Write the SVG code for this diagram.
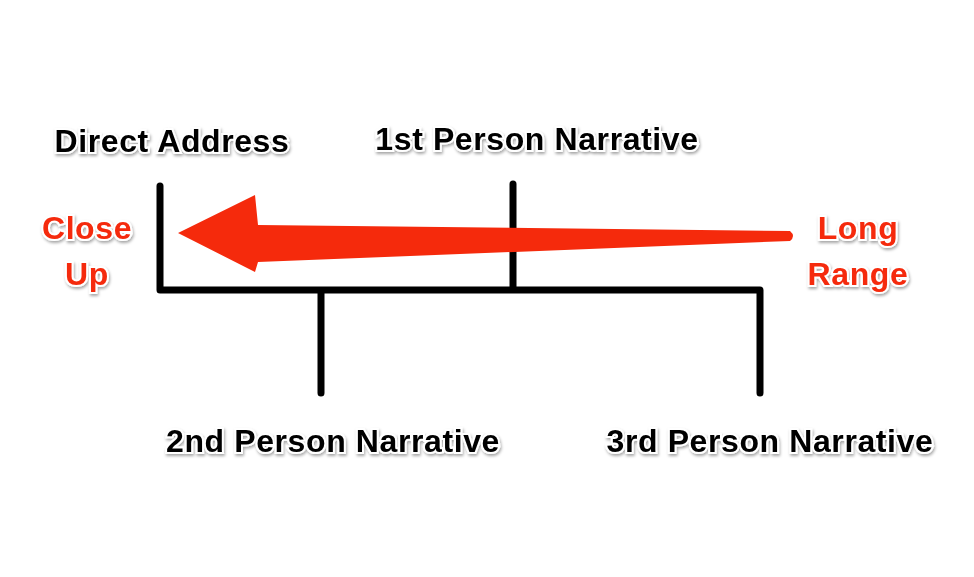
<svg xmlns="http://www.w3.org/2000/svg" width="974" height="577" viewBox="0 0 974 577">
<defs><filter id="sh" x="-10%" y="-30%" width="120%" height="160%"><feDropShadow dx="1" dy="2" stdDeviation="1.5" flood-color="#000" flood-opacity="0.35"/></filter></defs>
<style>
text{font-family:"Liberation Sans",Arial,sans-serif;font-weight:bold;font-size:32px;letter-spacing:0.6px;text-anchor:middle;stroke:#fff;stroke-width:4;paint-order:stroke;filter:url(#sh)}
.b{fill:#000}.r{fill:#f52a0c}
.ln{stroke:#000;stroke-width:7;fill:none;stroke-linecap:round;stroke-linejoin:round}
</style>
<rect width="974" height="577" fill="#fff"/>
<g id="connectors">
<path class="ln" d="M160 186V290H760V393M321 290V393M513 184V290"/>
<path id="arrow" d="M790 231Q796 236 790 241L258 262L255 272L178 233L255 195L258 225Z" fill="#f52a0c"/>
</g>
<g id="direct"><text class="b" x="172" y="152">Direct Address</text></g>
<g id="first"><text class="b" x="537" y="150">1st Person Narrative</text></g>
<g id="second"><text class="b" x="333" y="452">2nd Person Narrative</text></g>
<g id="third"><text class="b" x="770" y="452">3rd Person Narrative</text></g>
<g id="close"><text class="r" x="87" y="239">Close</text><text class="r" x="87" y="285">Up</text></g>
<g id="long"><text class="r" x="858" y="239">Long</text><text class="r" x="858" y="285">Range</text></g>
</svg>
